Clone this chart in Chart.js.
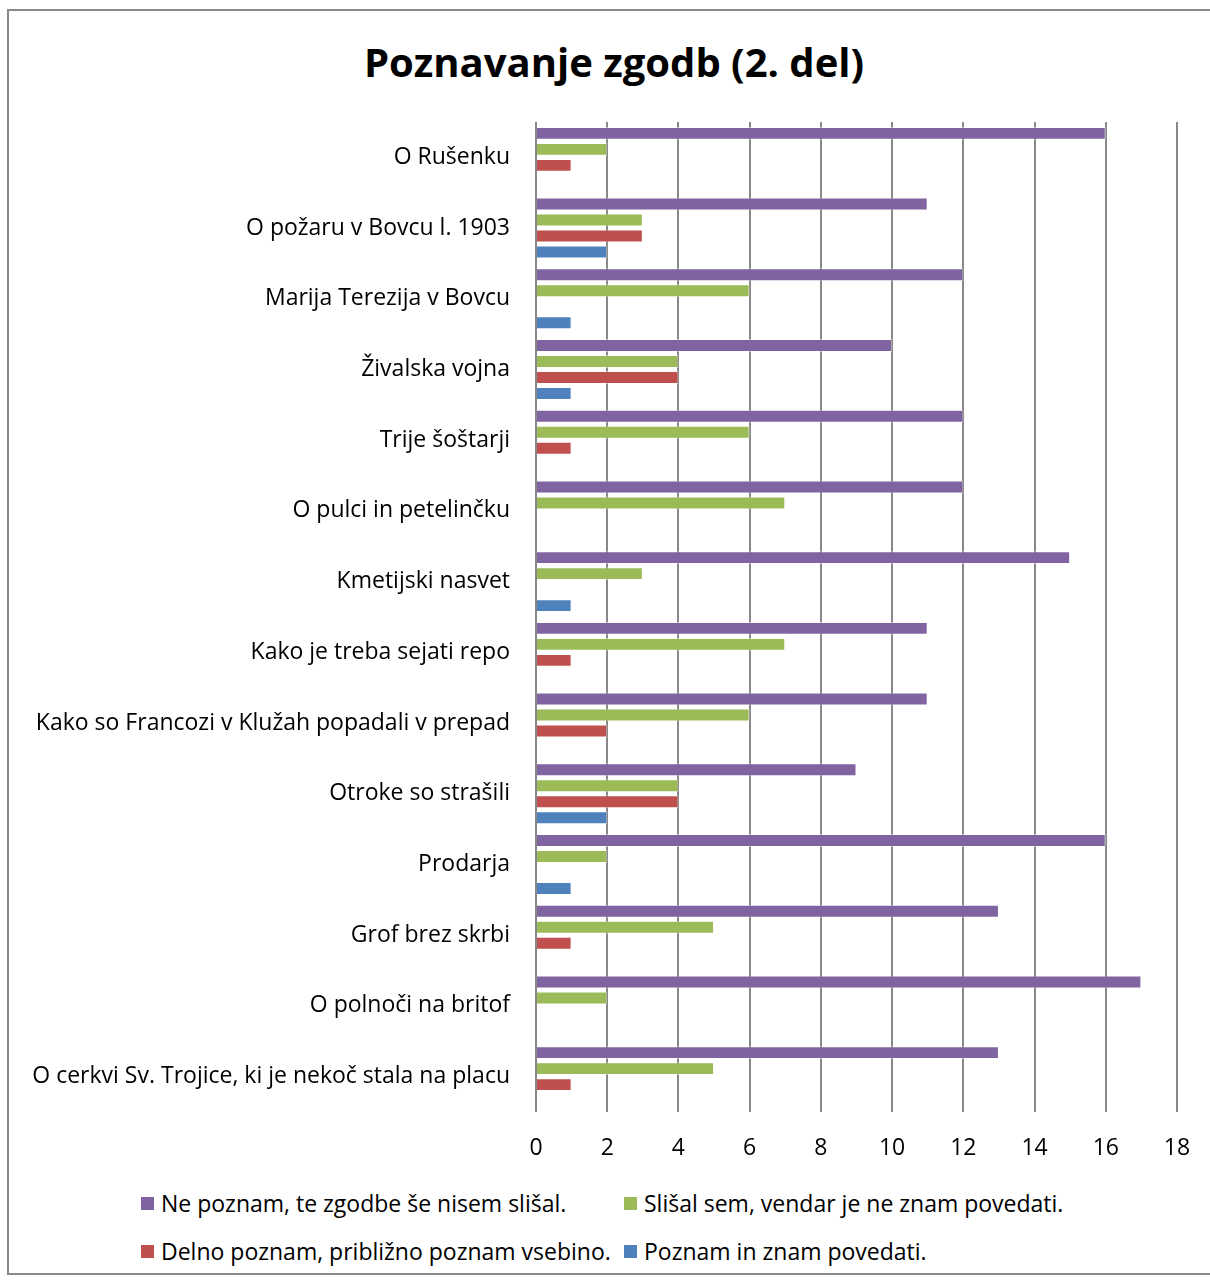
<!DOCTYPE html>
<html>
<head>
<meta charset="utf-8">
<script src="https://cdn.jsdelivr.net/npm/chart.js@4.4.1/dist/chart.umd.min.js"></script>
<style>
  html, body { margin: 0; padding: 0; background: #fff; }
  body { width: 1210px; height: 1281px; position: relative; overflow: hidden; font-family: "Open Sans", sans-serif; }
  .frame { position: absolute; left: 7px; top: 9px; width: 1220px; height: 1266px; border: 2px solid #888; box-sizing: border-box; }
  .title { position: absolute; left: 314px; width: 600px; top: 38px; line-height: 48px; text-align: center; font-size: 40px; font-weight: bold; color: #000; }
  #chart { position: absolute; left: 0; top: 0; }
  .legend { position: absolute; left: 141px; top: 1188px; display: grid; grid-template-columns: 483px auto; row-gap: 18px; }
  .legend-item { display: flex; align-items: center; font-size: 23px; color: #000; height: 30px; white-space: nowrap; }
  .legend-item span.box { width: 13px; height: 13px; margin-right: 7px; display: inline-block; }
</style>
</head>
<body>
<div class="frame"></div>
<div class="title">Poznavanje zgodb (2. del)</div>
<canvas id="chart" width="1210" height="1175"></canvas>
<div class="legend" id="legend"></div>
<script>
const stories = [
  'O Rušenku',
  'O požaru v Bovcu l. 1903',
  'Marija Terezija v Bovcu',
  'Živalska vojna',
  'Trije šoštarji',
  'O pulci in petelinčku',
  'Kmetijski nasvet',
  'Kako je treba sejati repo',
  'Kako so Francozi v Klužah popadali v prepad',
  'Otroke so strašili',
  'Prodarja',
  'Grof brez skrbi',
  'O polnoči na britof',
  'O cerkvi Sv. Trojice, ki je nekoč stala na placu',
];

const notHeard = [16, 11, 12, 10, 12, 12, 15, 11, 11, 9, 16, 13, 17, 13];
const heardOnly = [2, 3, 6, 4, 6, 7, 3, 7, 6, 4, 2, 5, 2, 5];
const partly = [1, 3, 0, 4, 1, 0, 0, 1, 2, 4, 0, 1, 0, 1];
const knowWell = [0, 2, 1, 1, 0, 0, 1, 0, 0, 2, 1, 0, 0, 0];

const xTicks = [0, 2, 4, 6, 8, 10, 12, 14, 16, 18];

const seriesNames = [
  'Ne poznam, te zgodbe še nisem slišal.',
  'Slišal sem, vendar je ne znam povedati.',
  'Delno poznam, približno poznam vsebino.',
  'Poznam in znam povedati.',
];
const colors = ['#8064a2', '#9bbb59', '#c0504d', '#4f81bd'];

const font = '"Open Sans", sans-serif';

const datasets = [notHeard, heardOnly, partly, knowWell].map((data, i) => ({
  label: seriesNames[i],
  data,
  backgroundColor: colors[i],
  borderColor: 'rgba(255,255,255,0.45)',
  borderWidth: 1,
  categoryPercentage: 0.905,
  barPercentage: 0.81,
}));

const chart = new Chart(document.getElementById('chart'), {
  type: 'bar',
  data: { labels: stories, datasets },
  options: {
    indexAxis: 'y',
    responsive: false,
    animation: false,
    // title sits in the page above the canvas, so the plot starts at 122px
    layout: { padding: { left: 10, right: 33, top: 122, bottom: 0 } },
    plugins: {
      legend: { display: false },
      tooltip: { enabled: false },
    },
    scales: {
      x: {
        min: 0,
        max: 18,
        afterBuildTicks(scale) {
          scale.ticks = xTicks.map((v) => ({ value: v }));
        },
        afterFit(scale) {
          scale.height = 63;
          scale.paddingLeft = 0;
          scale.paddingRight = 0;
        },
        grid: { color: '#888', lineWidth: 2, drawTicks: false },
        border: { display: false },
        ticks: { color: '#000', padding: 23, font: { family: font, size: 23 } },
      },
      y: {
        afterFit(scale) {
          scale.width = 526;
          scale.paddingTop = 0;
          scale.paddingBottom = 0;
        },
        grid: { display: false, drawTicks: false },
        border: { display: false },
        ticks: { color: '#000', padding: 26, font: { family: font, size: 23 }, autoSkip: false },
      },
    },
  },
});

// legend laid out in two aligned columns
const legend = document.getElementById('legend');
chart.data.datasets.forEach((ds) => {
  const item = document.createElement('div');
  item.className = 'legend-item';
  const box = document.createElement('span');
  box.className = 'box';
  box.style.background = ds.backgroundColor;
  item.appendChild(box);
  item.appendChild(document.createTextNode(ds.label));
  legend.appendChild(item);
});
</script>
</body>
</html>
